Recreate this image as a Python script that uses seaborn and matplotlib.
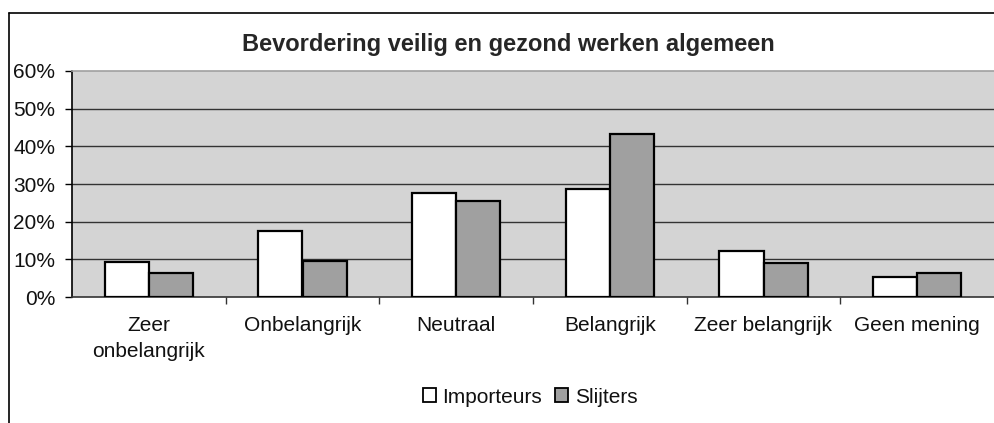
import matplotlib
matplotlib.use("Agg")
import matplotlib.pyplot as plt
import seaborn as sns
import pandas as pd
from matplotlib.ticker import PercentFormatter, FixedLocator
from matplotlib.lines import Line2D
from matplotlib.patches import Patch

categories = ["Zeer\nonbelangrijk", "Onbelangrijk", "Neutraal", "Belangrijk",
              "Zeer belangrijk", "Geen mening"]
series_names = ["Importeurs", "Slijters"]
importeurs = [0.092, 0.175, 0.275, 0.286, 0.122, 0.054]
slijters = [0.064, 0.095, 0.255, 0.434, 0.089, 0.064]
title = "Bevordering veilig en gezond werken algemeen"

df = pd.DataFrame({
    "cat": categories * 2,
    "series": [series_names[0]] * len(categories) + [series_names[1]] * len(categories),
    "val": importeurs + slijters,
})

sns.set_theme(style="white")
plt.rcParams["font.family"] = ["Liberation Sans", "DejaVu Sans"]

W, H = 994, 423
fig = plt.figure(figsize=(W / 100, H / 100), dpi=100, facecolor="white")
ax = fig.add_axes([72 / W, 1 - 297 / H, (994 - 72) / W, (297 - 71) / H])
ax.set_facecolor("#D4D4D4")

colors = ["#FFFFFF", "#A0A0A0"]
sns.barplot(data=df, x="cat", y="val", hue="series", order=categories,
            hue_order=series_names, palette=colors, edgecolor="black",
            linewidth=1.6, width=0.574, gap=0, ax=ax, legend=False, zorder=3)

ax.set_xlim(-0.5, 5.5)
ax.set_ylim(0, 0.6)
ax.set_yticks([0, 0.1, 0.2, 0.3, 0.4, 0.5, 0.6])
ax.yaxis.set_major_formatter(PercentFormatter(1.0, decimals=0))
ax.set_axisbelow(True)
for y in [0.1, 0.2, 0.3, 0.4, 0.5]:
    ax.axhline(y, color="#333333", linewidth=1.0, zorder=1)

ax.set_xlabel("")
ax.set_ylabel("")
ax.tick_params(axis="y", which="major", direction="out", length=5, width=1,
               color="black", labelsize=15, pad=7, left=True, labelcolor="#111111")
ax.tick_params(axis="x", which="major", length=0, labelsize=15, pad=14, labelcolor="#111111")
ax.xaxis.set_minor_locator(FixedLocator([0.5, 1.5, 2.5, 3.5, 4.5]))
ax.tick_params(axis="x", which="minor", direction="out", length=5, width=1,
               color="#333333", bottom=True)
for lab in ax.get_xticklabels():
    lab.set_linespacing(1.45)
    lab.set_verticalalignment("top")

ax.spines["left"].set_color("black")
ax.spines["left"].set_linewidth(1.2)
ax.spines["bottom"].set_color("#333333")
ax.spines["bottom"].set_linewidth(1.2)
ax.spines["top"].set_color("#A0A0A0")
ax.spines["top"].set_linewidth(1.2)
ax.spines["right"].set_visible(False)

fig.text(508 / W, 1 - 44 / H, title, ha="center", va="center",
         fontsize=17, fontweight="bold")

handles = [Patch(facecolor=c, edgecolor="black", linewidth=1.3) for c in colors]
fig.legend(handles, series_names, loc="center", bbox_to_anchor=(530 / W, 1 - 397 / H),
           ncol=2, frameon=False, fontsize=15, handlelength=0.65, handleheight=0.65,
           handletextpad=0.3, columnspacing=0.6, borderpad=0, labelcolor="#111111")

# chart border (left and top visible)
fig.add_artist(Line2D([9 / W, 9 / W], [0, 1 - 13 / H], transform=fig.transFigure,
                      color="black", linewidth=1.2))
fig.add_artist(Line2D([9 / W, 1], [1 - 13 / H, 1 - 13 / H], transform=fig.transFigure,
                      color="black", linewidth=1.2))

fig.savefig("out.png", dpi=100, facecolor="white")
